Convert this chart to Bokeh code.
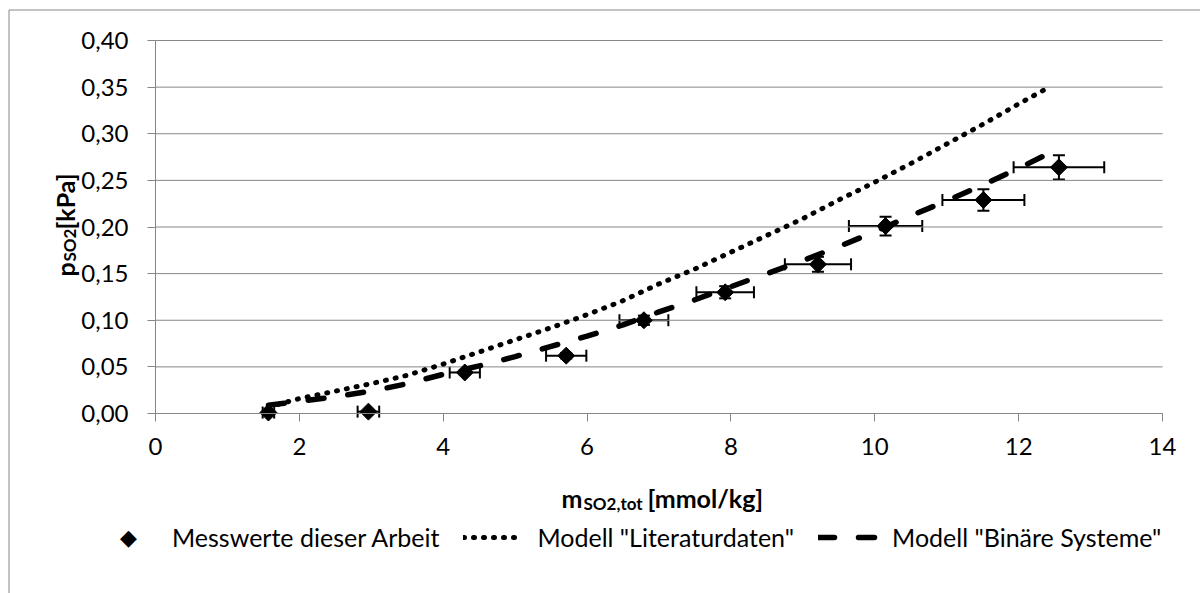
import math
from bokeh.plotting import figure
from bokeh.models import (ColumnDataSource, Whisker, TeeHead, Legend, LegendItem, Label,
                          BoxAnnotation, FixedTicker, Range1d, LinearAxis)
from bokeh.embed import file_html
from bokeh.resources import INLINE

# ---- data ----
m_meas = [1.57, 2.96, 4.30, 5.71, 6.79, 7.92, 9.21, 10.15, 11.51, 12.56]
p_meas = [0.001, 0.002, 0.044, 0.062, 0.100, 0.130, 0.160, 0.201, 0.229, 0.264]
m_err = [0.08, 0.15, 0.21, 0.28, 0.34, 0.40, 0.46, 0.51, 0.57, 0.63]
p_err = [0.000, 0.000, 0.002, 0.003, 0.005, 0.0065, 0.008, 0.010, 0.0115, 0.013]

m_model = [1.57, 2.0, 2.5, 3.0, 3.5, 4.0, 4.5, 5.0, 5.5, 6.0, 6.5, 7.0, 7.5, 8.0,
           8.5, 9.0, 9.5, 10.0, 10.5, 11.0, 11.5, 12.0, 12.45]
p_lit = [0.007, 0.016, 0.024, 0.032, 0.041, 0.053, 0.066, 0.079, 0.092, 0.106, 0.121,
         0.139, 0.155, 0.173, 0.191, 0.209, 0.229, 0.248, 0.268, 0.289, 0.310, 0.332, 0.351]
p_bin = [0.009, 0.013, 0.018, 0.024, 0.032, 0.042, 0.051, 0.061, 0.072, 0.083, 0.095,
         0.109, 0.122, 0.136, 0.150, 0.164, 0.179, 0.195, 0.212, 0.228, 0.245, 0.263, 0.280]

x_ticks = [0, 2, 4, 6, 8, 10, 12, 14]
x_tick_labels = ["0", "2", "4", "6", "8", "10", "12", "14"]
y_ticks = [0.0, 0.05, 0.1, 0.15, 0.2, 0.25, 0.3, 0.35, 0.4]
y_tick_labels = ["0,00", "0,05", "0,10", "0,15", "0,20", "0,25", "0,30", "0,35", "0,40"]

series_names = ["Messwerte dieser Arbeit", 'Modell "Literaturdaten"', 'Modell "Binäre Systeme"']

# ---- layout (pixels) ----
W, H = 1200, 593
PLOT_L, PLOT_R, PLOT_T, PLOT_B = 155, 1162, 40, 413   # plot area inside the canvas
FONT = "Lato"
GRAY = "#868686"

x0, x1 = x_ticks[0], x_ticks[-1]
y0, y1 = y_ticks[0], y_ticks[-1]
ppx = (PLOT_R - PLOT_L) / (x1 - x0)
ppy = (PLOT_B - PLOT_T) / (y1 - y0)
x_range = Range1d(x0 - PLOT_L / ppx, x1 + (W - PLOT_R) / ppx)
y_range = Range1d(y0 - (H - PLOT_B) / ppy, y1 + PLOT_T / ppy)

p = figure(width=W, height=H, x_range=x_range, y_range=y_range,
           x_axis_type=None, y_axis_type=None, title=None,
           output_backend="svg", toolbar_location=None,
           min_border_left=0, min_border_right=0, min_border_top=0, min_border_bottom=0)
p.outline_line_color = None
p.background_fill_color = "white"
p.border_fill_color = "white"

# horizontal gridlines over the plot area
p.segment(x0=[x0] * len(y_ticks), y0=y_ticks, x1=[x1] * len(y_ticks), y1=y_ticks,
          line_color=GRAY, line_width=1)

xaxis = LinearAxis(fixed_location=y0, bounds=(x0, x1), ticker=FixedTicker(ticks=x_ticks),
                   major_label_overrides=dict(zip(x_ticks, x_tick_labels)))
yaxis = LinearAxis(fixed_location=x0, bounds=(y0, y1), ticker=FixedTicker(ticks=y_ticks),
                   major_label_overrides=dict(zip(y_ticks, y_tick_labels)))
for ax in (xaxis, yaxis):
    ax.axis_line_color = GRAY
    ax.axis_line_width = 1
    ax.major_tick_line_color = GRAY
    ax.major_tick_in = 0
    ax.major_tick_out = 8
    ax.minor_tick_line_color = None
    ax.major_label_text_font = FONT
    ax.major_label_text_font_size = "24px"
    ax.major_label_text_color = "black"
xaxis.major_label_standoff = 16
yaxis.major_label_standoff = 19
p.add_layout(xaxis, "below")
p.add_layout(yaxis, "left")

# ---- measured points with error bars ----
src = ColumnDataSource(dict(
    m=m_meas, p=p_meas,
    m_lo=[a - b for a, b in zip(m_meas, m_err)], m_hi=[a + b for a, b in zip(m_meas, m_err)],
    p_lo=[a - b for a, b in zip(p_meas, p_err)], p_hi=[a + b for a, b in zip(p_meas, p_err)],
))
head = dict(size=12, line_width=2, line_color="black")
p.add_layout(Whisker(source=src, base="p", lower="m_lo", upper="m_hi", dimension="width",
                     line_color="black", line_width=2,
                     lower_head=TeeHead(**head), upper_head=TeeHead(**head)))
p.add_layout(Whisker(source=src, base="m", lower="p_lo", upper="p_hi", dimension="height",
                     line_color="black", line_width=2,
                     lower_head=TeeHead(**head), upper_head=TeeHead(**head)))
r_meas = p.scatter("m", "p", source=src, marker="square", size=12, angle=math.pi / 4,
                   fill_color="black", line_color="black")

r_lit = p.line(m_model, p_lit, line_color="black", line_width=5, line_dash="1 9", line_cap="round")
r_bin = p.line(m_model, p_bin, line_color="black", line_width=5.5, line_dash="16 24", line_cap="round")

# placeholder renderer for the legend entry of the measured points (symbol drawn as text)
r_ph = p.scatter(x=[], y=[], marker="square", fill_alpha=0, line_alpha=0)

def sy(canvas_y):
    return H - canvas_y

legend = Legend(items=[LegendItem(label=series_names[0], renderers=[r_ph]),
                       LegendItem(label=series_names[1], renderers=[r_lit]),
                       LegendItem(label=series_names[2], renderers=[r_bin])],
                orientation="horizontal", location=(98, sy(551.5)),
                glyph_width=60, glyph_height=24, label_height=24, label_standoff=14,
                spacing=24, padding=0, margin=0,
                label_text_font=FONT, label_text_font_size="25px", label_text_color="black",
                border_line_color=None, background_fill_alpha=0)
p.add_layout(legend, "center")
p.add_layout(Label(x=128, y=sy(537), x_units="screen", y_units="screen", text="◆",
                   text_font="DejaVu Sans", text_font_size="22px", text_color="black",
                   text_align="center", text_baseline="middle"))

# ---- axis titles (with subscripts) ----
def lab(x, y, t, size, angle=0.0):
    p.add_layout(Label(x=x, y=y, x_units="screen", y_units="screen", text=t, angle=angle,
                       text_font=FONT, text_font_style="bold", text_font_size=size,
                       text_color="black", text_align="left", text_baseline="alphabetic"))

lab(561, sy(497), "m", "25px")
lab(583, sy(503), "SO2,tot", "17px")
lab(647, sy(497), "[mmol/kg]", "25px")

lab(64, sy(276), "p", "25px", math.pi / 2)
lab(69, sy(261), "SO2", "17px", math.pi / 2)
lab(64, sy(229), "[kPa]", "25px", math.pi / 2)

# ---- outer chart border ----
p.add_layout(BoxAnnotation(left=8.5, right=W + 50, top=sy(9.5), bottom=-50,
                           left_units="screen", right_units="screen",
                           top_units="screen", bottom_units="screen",
                           fill_alpha=0, line_color=GRAY, line_alpha=1.0, line_width=1))

open("out.html", "w").write(file_html(p, INLINE))
